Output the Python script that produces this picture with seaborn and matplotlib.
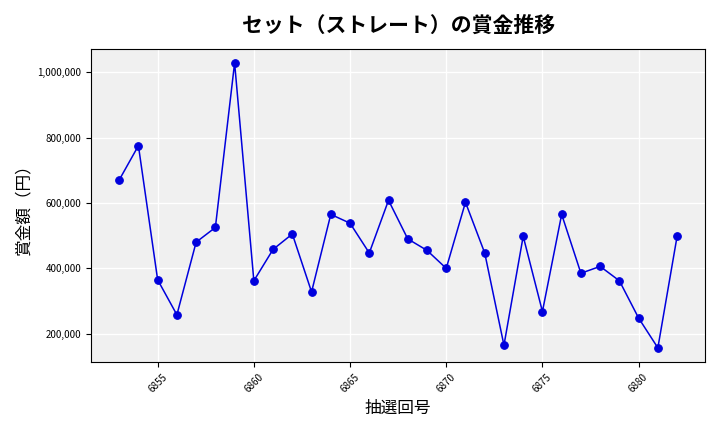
import matplotlib
matplotlib.use("Agg")
import matplotlib.pyplot as plt
import seaborn as sns
import pandas as pd
from matplotlib.ticker import FuncFormatter

draws = list(range(6853, 6883))
prizes = [670000, 775000, 365000, 258000, 480000, 525000, 1028000, 362000, 458000, 505000,
          328000, 565000, 538000, 447000, 608000, 490000, 455000, 400000, 602000, 447000,
          165000, 498000, 268000, 565000, 385000, 406000, 362000, 248000, 157000, 498000]
df = pd.DataFrame({"draw": draws, "prize": prizes})

plt.rcParams['font.family'] = ['Noto Sans CJK JP', 'DejaVu Sans']
fig, ax = plt.subplots(figsize=(7.2, 4.32), dpi=100)
ax.set_facecolor('#f0f0f0')
ax.grid(True, color='white', linewidth=1)
ax.set_axisbelow(True)
sns.lineplot(data=df, x="draw", y="prize", ax=ax, color='#0000dd', marker='o',
             markersize=5.5, markeredgecolor='#0000dd', linewidth=1.1)
ax.set_title("セット（ストレート）の賞金推移", fontsize=15, fontweight='bold', pad=12)
ax.set_xlabel("抽選回号", fontsize=12)
ax.set_ylabel("賞金額（円）", fontsize=12)
ax.yaxis.set_major_formatter(FuncFormatter(lambda v, p: f"{int(v):,}"))
ax.tick_params(axis='both', labelsize=7)
plt.setp(ax.get_xticklabels(), rotation=45)
fig.tight_layout()
fig.savefig("out.png", dpi=100)
